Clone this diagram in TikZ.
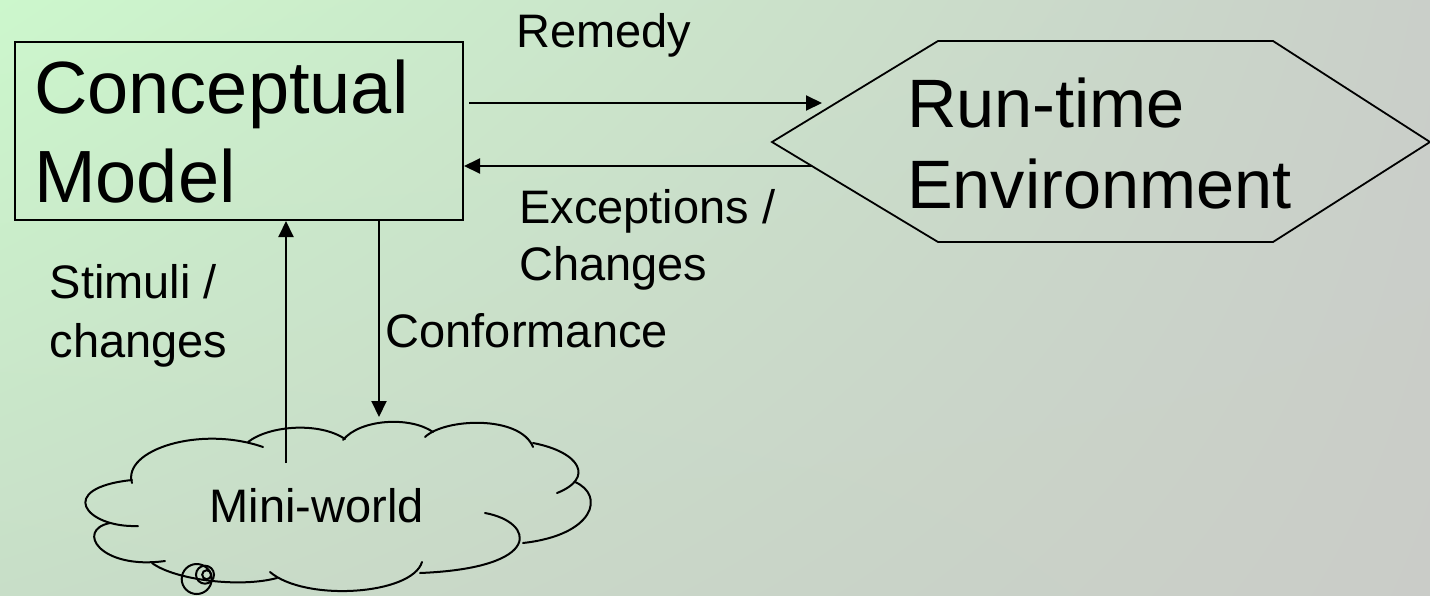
\documentclass[tikz,border=0pt]{standalone}
\usepackage{fontspec}
\setmainfont{Liberation Sans}
\usetikzlibrary{arrows.meta,shadings}
\definecolor{bgul}{RGB}{204,247,204}
\definecolor{bgur}{RGB}{202,207,201}
\definecolor{bgll}{RGB}{200,222,200}
\definecolor{bglr}{RGB}{202,204,200}
\begin{document}
\begin{tikzpicture}[x=1pt,y=-1pt,
  arr/.style={line width=2pt, -{Triangle[length=16pt,width=15pt]}},
  shapeline/.style={line width=2pt},
  cloudline/.style={line width=2pt, line cap=round},
  big/.style={anchor=base west, inner sep=0pt, align=left, font=\fontsize{74}{89}\selectfont},
  bigb/.style={anchor=base west, inner sep=0pt, align=left, font=\fontsize{68.5}{81}\selectfont},
  small/.style={anchor=base west, inner sep=0pt, align=left, font=\fontsize{47}{57}\selectfont},
  smallb/.style={anchor=base west, inner sep=0pt, align=left, font=\fontsize{47}{59}\selectfont}]
\useasboundingbox (0,0) rectangle (1430,595);
\shade[upper left=bgul, upper right=bgur, lower left=bgll, lower right=bglr] (0,0) rectangle (1430,595);

% Conceptual model box
\node[draw, shapeline, minimum width=448pt, minimum height=178pt, inner sep=0pt, anchor=north west] (cm) at (14,41) {};
\node[big] (cmt) at (34,202) {Conceptual\\Model};

% Run-time environment hexagon
\coordinate (hw) at (772,142);
\coordinate (htl) at (938,41);
\coordinate (htr) at (1273,41);
\coordinate (he) at (1430,142);
\coordinate (hbr) at (1273,242);
\coordinate (hbl) at (938,242);
\draw[shapeline, line width=1.8pt] (hw) -- (htl) -- (htr) -- (he) -- (hbr) -- (hbl) -- cycle;
\node[bigb] (rte) at (907,208) {Run-time\\Environment};

% Mini-world cloud
\draw[cloudline] (132,483) .. controls (122,450) and (200,425) .. (263,447);
\draw[cloudline] (248,442) .. controls (270,425) and (320,422) .. (345,439);
\draw[cloudline] (343,440) .. controls (360,419) and (410,416) .. (433,432);
\draw[cloudline] (425,437) .. controls (445,418) and (520,415) .. (533,447);
\draw[cloudline] (533,443) .. controls (580,452) and (595,478) .. (557,493);
\draw[cloudline] (575,482) .. controls (605,495) and (595,535) .. (523,543);
\draw[cloudline] (485,513) .. controls (535,522) and (545,568) .. (420,573);
\draw[cloudline] (422,562) .. controls (412,595) and (305,602) .. (270,572);
\draw[cloudline] (152,563) .. controls (175,580) and (240,588) .. (277,578);
\draw[cloudline] (165,561) .. controls (100,570) and (75,530) .. (110,523);
\draw[cloudline] (138,526) .. controls (85,528) and (55,488) .. (132,480);
\draw[cloudline] (196.7,579) circle[radius=15];
\draw[cloudline] (205,574.7) circle[radius=9];
\draw[cloudline] (206.7,574.7) circle[radius=4.5];
\node[small] (mw) at (209.5,522) {Mini-world};

% connectors
\coordinate (rs) at (469,103);
\coordinate (re) at (822,103);
\draw[arr] (rs) -- (re);
\coordinate (es) at (812,166);
\draw[arr] (es) -- (es -| cm.east);
\coordinate (ss) at (286,463);
\draw[arr] (ss) -- (ss |- cm.south);
\coordinate (ce) at (379,417);
\draw[arr] (ce |- cm.south) -- (ce);

% labels
\node[small] (lrem) at (516,47) {Remedy};
\node[small] (lexc) at (519,280) {Exceptions /\\Changes};
\node[smallb] (lsti) at (49.5,357) {Stimuli /\\changes};
\node[small] (lcon) at (385.5,347) {Conformance};
\end{tikzpicture}
\end{document}
